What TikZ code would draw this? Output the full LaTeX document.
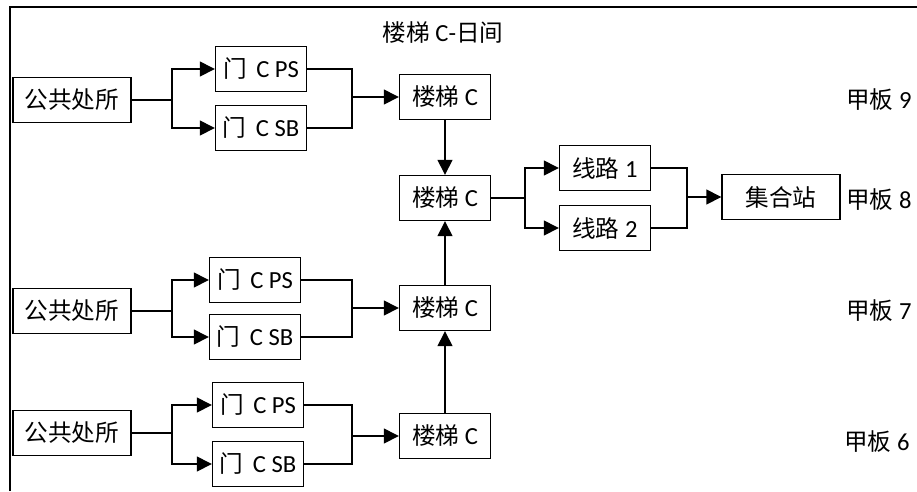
\documentclass[tikz,border=0pt]{standalone}
\usepackage{fontspec}
\usepackage{tikz}
\usetikzlibrary{arrows.meta}
\setmainfont{Carlito}
\newfontfamily\cjk[Scale=0.96]{Noto Sans CJK SC}
\newcommand{\zw}[1]{{\cjk #1}}

\tikzset{
  box/.style={draw, line width=0.8pt, minimum height=0.9cm, minimum width=1.82cm, inner sep=0pt, font=\fontsize{14}{16}\selectfont},
  widebox/.style={box, minimum width=2.36cm},
  lbl/.style={font=\fontsize{14}{16}\selectfont},
  arr/.style={-{Triangle[length=8.5pt,width=8.5pt]}},
}

\begin{document}
\begin{tikzpicture}[x=0.02cm, y=-0.02cm, line width=0.8pt]
            \useasboundingbox (0,0) rectangle (917,491);
            \draw[line width=1.2pt] (10,491) -- (10,7) -- (917,7);
            \node[lbl] (title) at (443,33) {\zw{楼梯} C-\zw{日间}};
            % one stair group per deck: shelter, two doors, stair
            \foreach \d/\py/\gx/\psy/\sby/\sy in {9/100/261/69/128/97, 7/311/255/280/337/308, 6/433/258/405/464/436} {
                \node[widebox] (pub\d) at (72,\py) {\zw{公共处所}};
                \node[box] (ps\d) at (\gx,\psy) {\zw{门}\, C PS};
                \node[box] (sb\d) at (\gx,\sby) {\zw{门}\, C SB};
                \node[box] (st\d) at (445,\sy) {\zw{楼梯} C};
                \coordinate (br\d) at (172,\py);
                \coordinate (jn\d) at (352,\sy);
                \draw (pub\d) -- (br\d);
                \draw[arr] (br\d) |- (ps\d);
                \draw[arr] (br\d) |- (sb\d);
                \draw (ps\d) -| (jn\d);
                \draw (sb\d) -| (jn\d);
                \draw[arr] (jn\d) -- (st\d);
            }
            % deck 8: stair, routes, muster station
            \node[box] (st8) at (445,198) {\zw{楼梯} C};
            \node[box] (r1) at (605,168) {\zw{线路} 1};
            \node[box] (r2) at (605,228) {\zw{线路} 2};
            \node[widebox] (ms) at (781,197) {\zw{集合站}};
            \coordinate (br8) at (525,198);
            \coordinate (jn8) at (687,197);
            \draw[arr] (st9) -- (st8);
            \draw[arr] (st7) -- (st8);
            \draw[arr] (st6) -- (st7);
            \draw (st8) -- (br8);
            \draw[arr] (br8) |- (r1);
            \draw[arr] (br8) |- (r2);
            \draw (r1) -| (jn8);
            \draw (r2) -| (jn8);
            \draw[arr] (jn8) -- (ms);
            \node[lbl] (d9) at (879,100) {\zw{甲板} 9};
            \node[lbl] (d8) at (879,200) {\zw{甲板} 8};
            \node[lbl] (d7) at (879,311) {\zw{甲板} 7};
            \node[lbl] (d6) at (877,442) {\zw{甲板} 6};
        \end{tikzpicture}
\end{document}
